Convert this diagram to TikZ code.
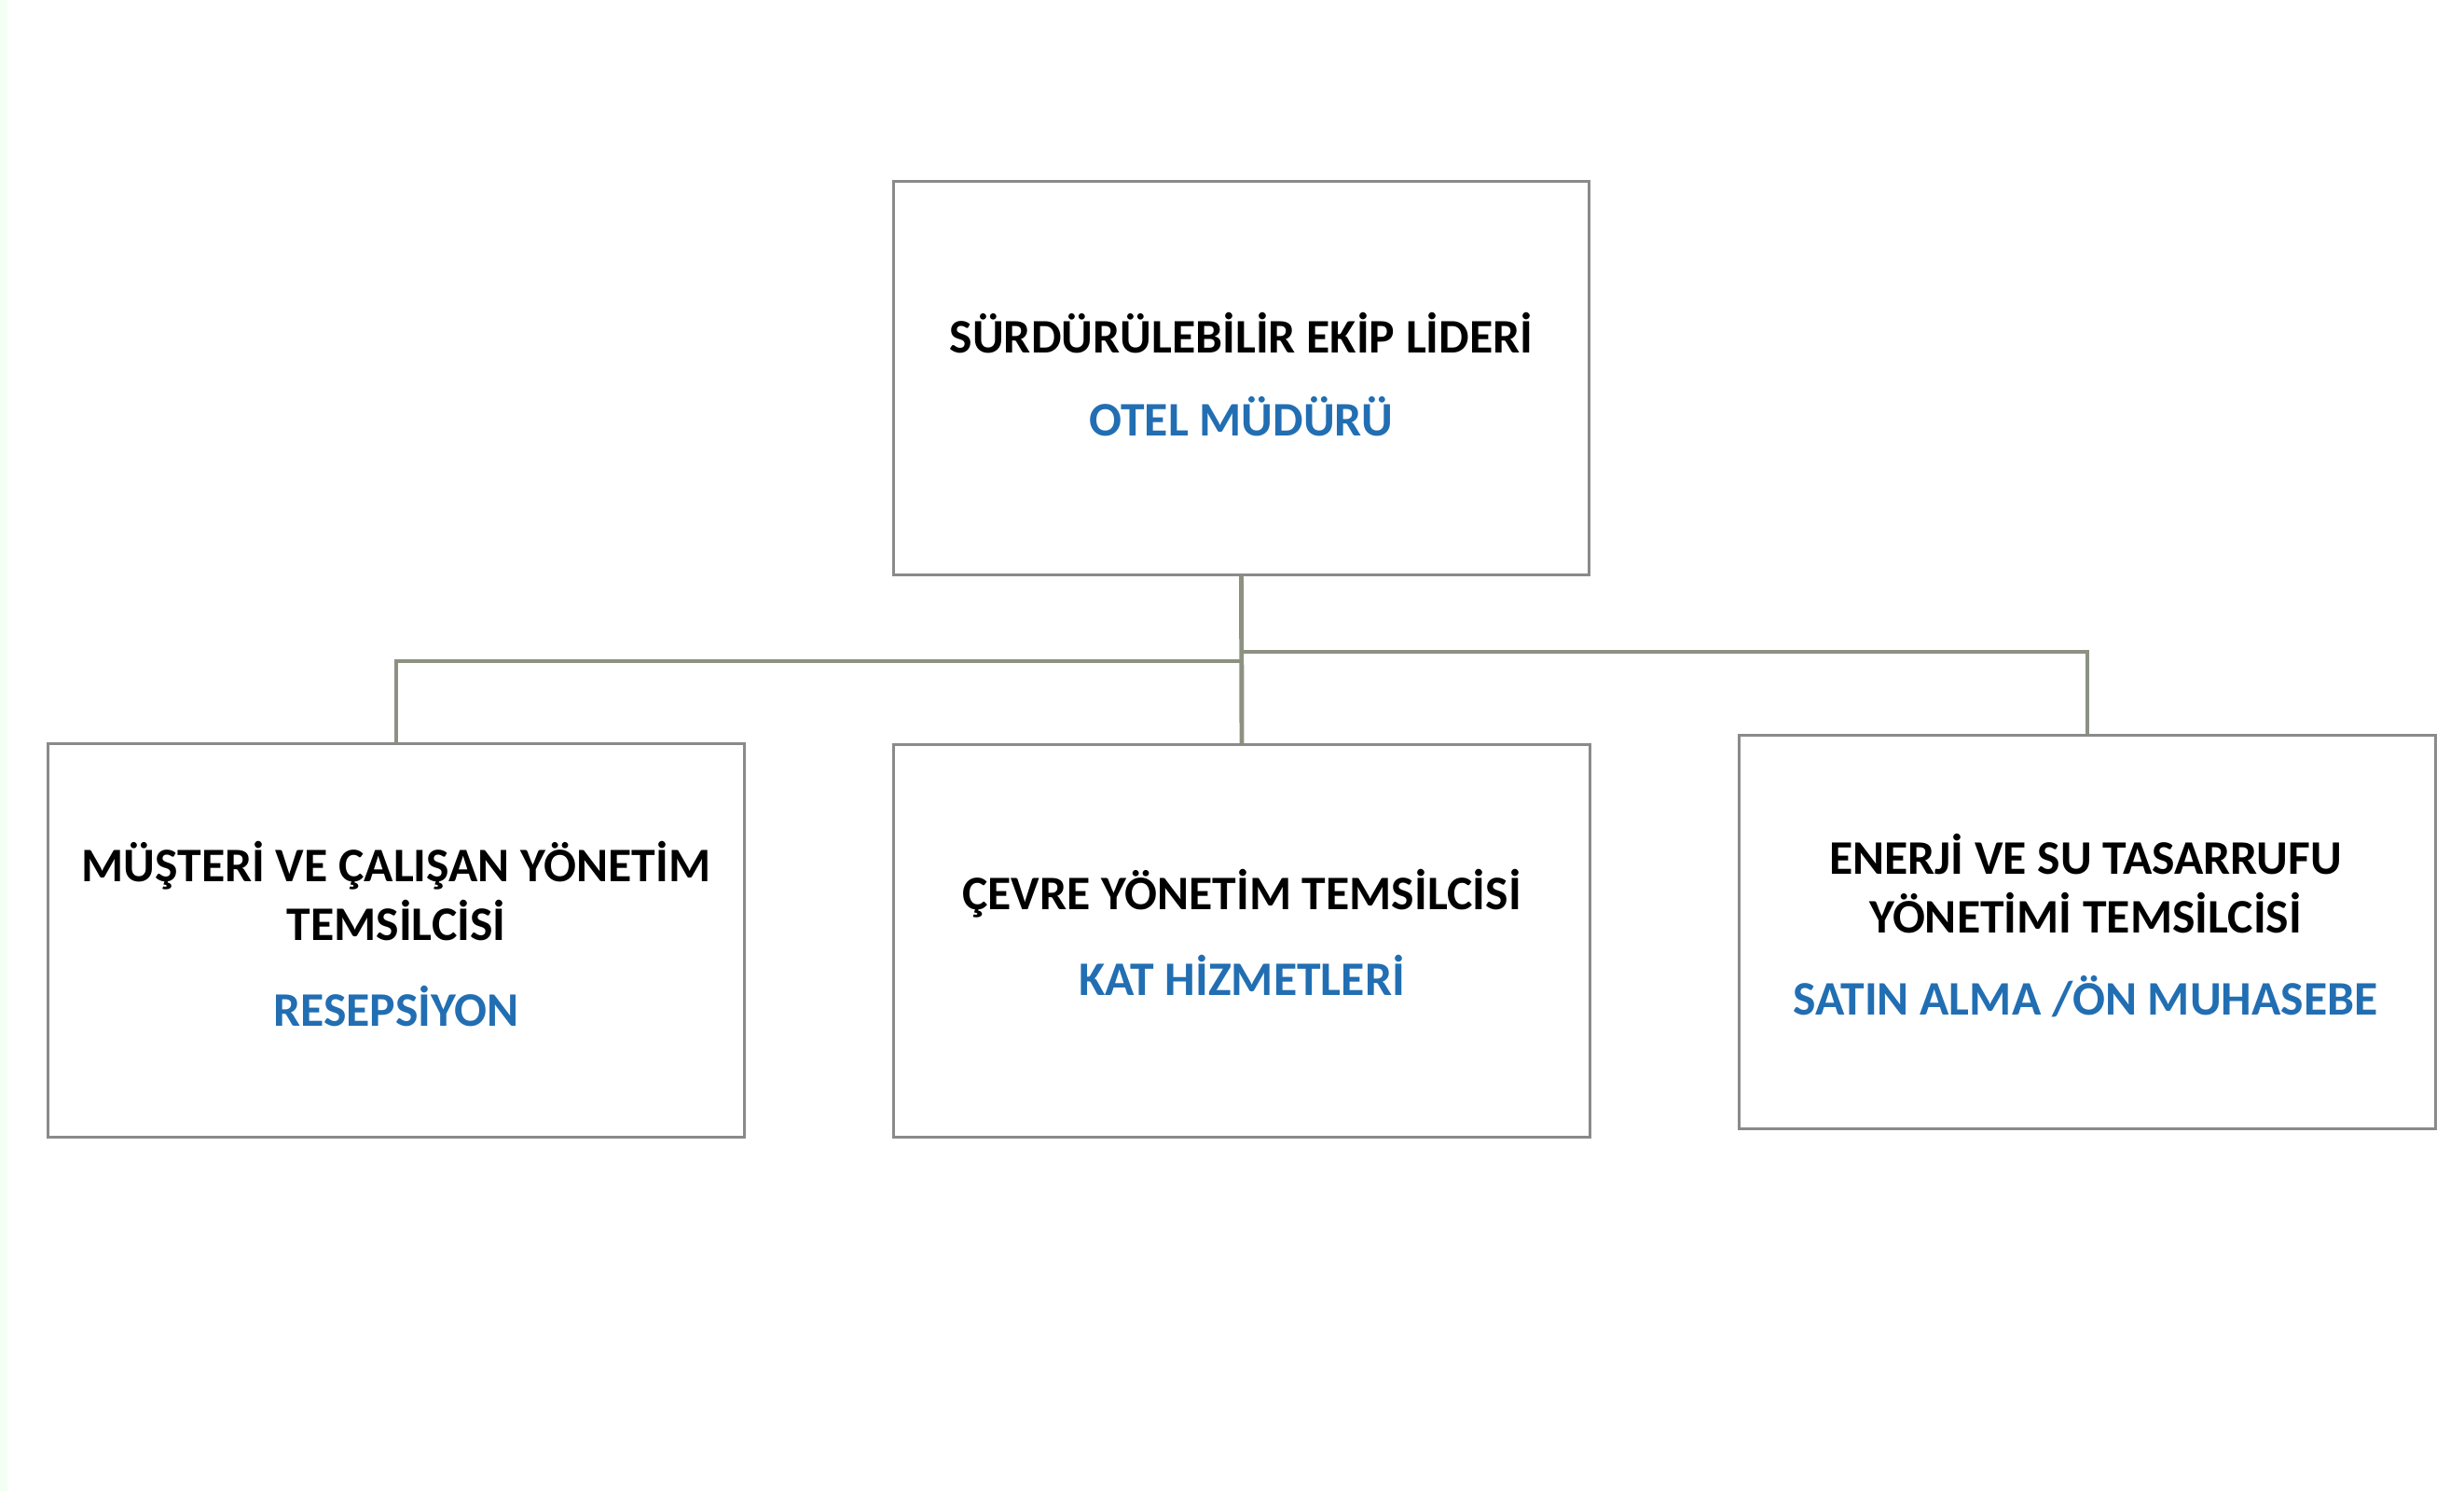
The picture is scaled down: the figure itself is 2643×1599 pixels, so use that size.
\documentclass[tikz,border=0pt]{standalone}
\usepackage{fontspec}
\setmainfont{Carlito}
\definecolor{boxline}{RGB}{138,138,138}
\definecolor{connline}{RGB}{140,145,130}
\definecolor{roleblue}{RGB}{34,110,178}
\definecolor{stripgreen}{RGB}{243,255,243}
\begin{document}
\begin{tikzpicture}[x=0.01cm,y=-0.01cm,
  orgbox/.style={draw=boxline,line width=0.85pt,fill=white,minimum width=7.46cm,minimum height=4.21cm,inner sep=0pt},
  conn/.style={draw=connline,line width=1.4pt},
  roletext/.style={anchor=base,inner sep=0pt,font=\fontsize{14.7}{17.9}\selectfont\bfseries,text=black},
  unittext/.style={anchor=base,inner sep=0pt,font=\fontsize{14.7}{17.9}\selectfont\bfseries,text=roleblue}]
\useasboundingbox (0,0) rectangle (2643,1599);
\fill[stripgreen] (0,0) rectangle (8,1599);
% boxes
\node[orgbox] (top) at (1331.5,405.5) {};
\node[orgbox] (left) at (425,1008.5) {};
\node[orgbox] (mid) at (1332,1009) {};
\node[orgbox] (right) at (2239,999.5) {};
% connectors
\coordinate (jl) at (1331.5,709);
\coordinate (jr) at (1331.5,699);
\draw[conn] (top.south) -- (mid.north);
\draw[conn] (jl) -| (left.north);
\draw[conn] (jr) -| (right.north);
% texts
\node[roletext] (topA) at (1331.5,378) {SÜRDÜRÜLEBİLİR EKİP LİDERİ};
\node[unittext] (topB) at (1331.5,467) {OTEL MÜDÜRÜ};
\node[roletext] (leftA) at (425,945) {MÜŞTERİ VE ÇALIŞAN YÖNETİM};
\node[roletext] (leftB) at (425,1008) {TEMSİLCİSİ};
\node[unittext] (leftC) at (425,1100) {RESEPSİYON};
\node[roletext] (midA) at (1332,975) {ÇEVRE YÖNETİM TEMSİLCİSİ};
\node[unittext] (midB) at (1332,1067) {KAT HİZMETLERİ};
\node[roletext] (rightA) at (2237,937) {ENERJİ VE SU TASARRUFU};
\node[roletext] (rightB) at (2237,1000) {YÖNETİMİ TEMSİLCİSİ};
\node[unittext] (rightC) at (2237,1088) {SATIN ALMA /ÖN MUHASEBE};
\end{tikzpicture}
\end{document}
